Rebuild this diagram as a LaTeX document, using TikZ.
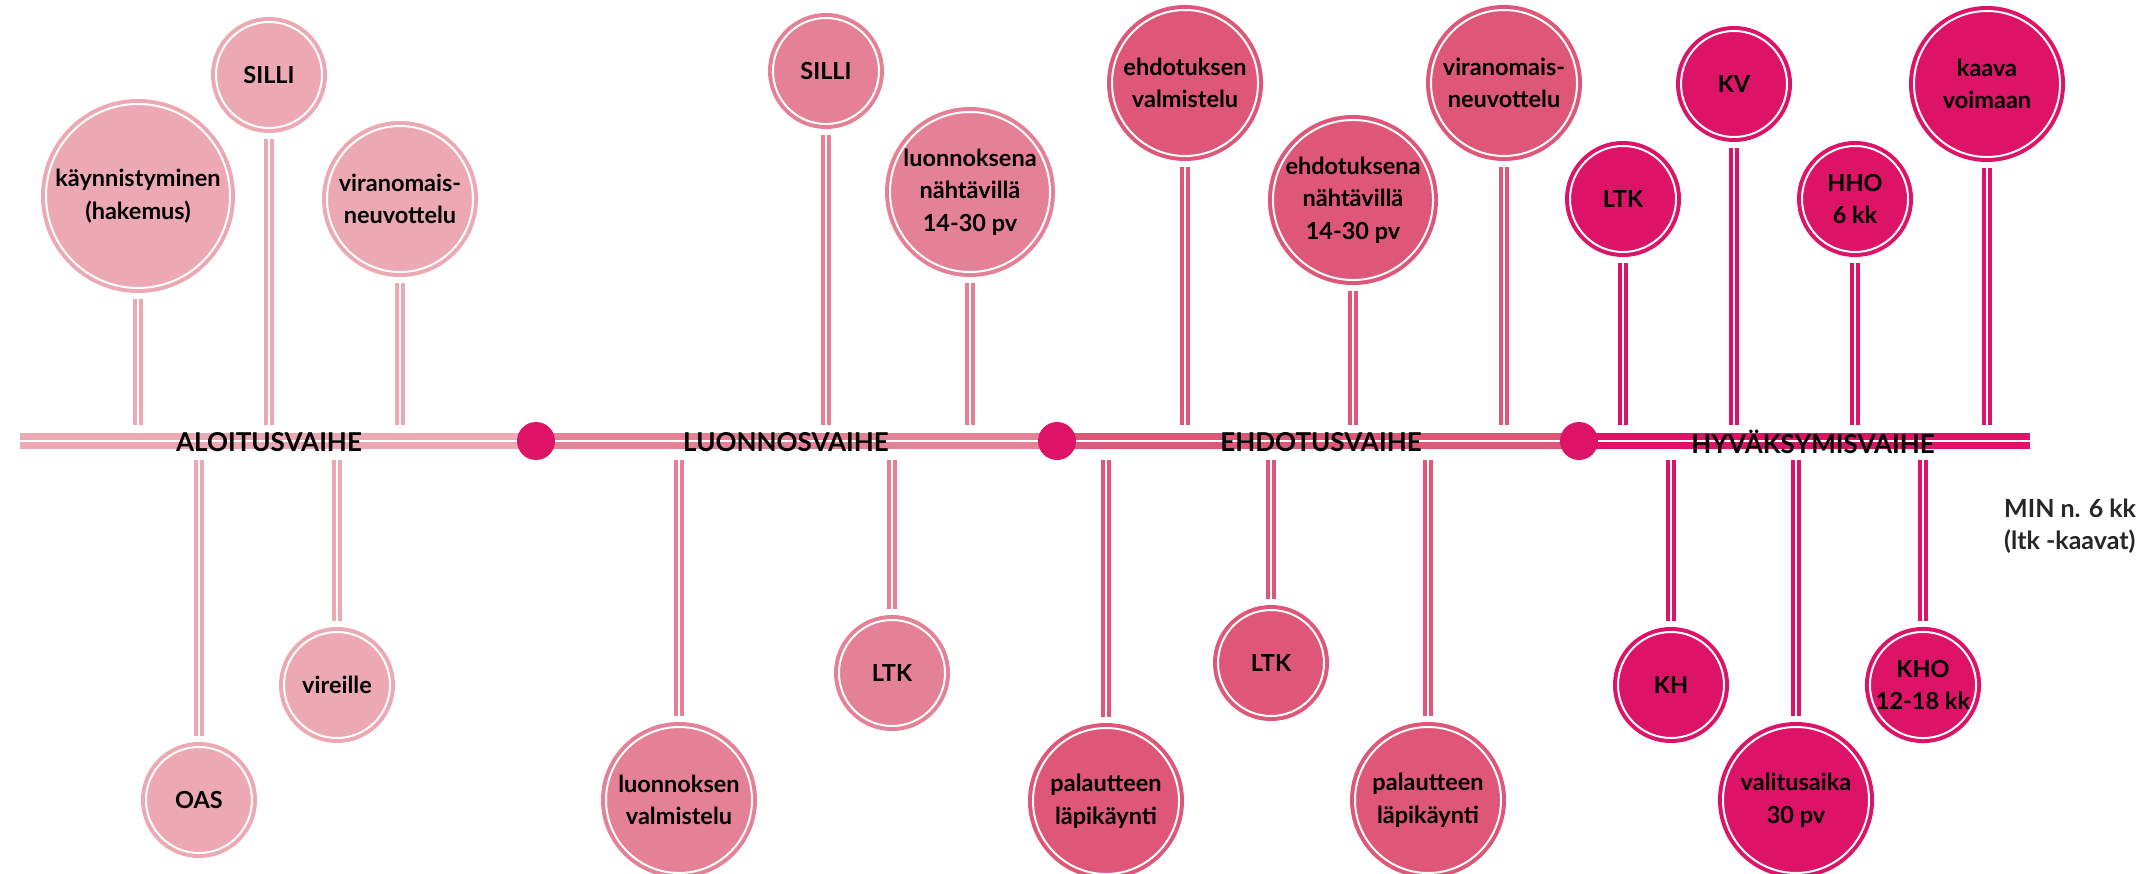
\documentclass[tikz,border=0pt]{standalone}
\usepackage{fontspec}
\setmainfont{Lato}
\usetikzlibrary{calc}
\definecolor{faseA}{HTML}{EDA9B3}
\definecolor{faseB}{HTML}{E58196}
\definecolor{faseC}{HTML}{DE5779}
\definecolor{faseD}{HTML}{DC1367}

\begin{document}
\begin{tikzpicture}[x=1pt,y=-1pt,
    pallo/.style={circle,draw=#1,fill=#1,double=white,double distance=2pt,line width=4pt,
        inner sep=0pt,outer sep=0pt,align=center,text=black,
        font=\fontsize{23.5}{32.5}\selectfont\bfseries},
    pieni/.style={pallo=#1,minimum size=106pt},
    keski/.style={pallo=#1,minimum size=146pt},
    iso/.style={pallo=#1,minimum size=160pt},
    varsi/.style={draw=#1,double=white,double distance=2.5pt,line width=4pt,shorten <=11pt},
    jana/.style={draw=#1,double=white,double distance=2.5pt,line width=6.5pt},
    piste/.style={circle,fill=faseD,minimum size=38pt,inner sep=0pt},
    vaihe/.style={font=\fontsize{26}{30}\selectfont\bfseries,inner sep=0pt}]
        \useasboundingbox (0,0) rectangle (2146,874);

        \coordinate (tlY) at (0,425);
        \coordinate (tlA) at (0,460);
        \coordinate (alku) at (20,441);
        \coordinate (p1) at (536,441);
        \coordinate (p2) at (1057,441);
        \coordinate (p3) at (1579,441);
        \coordinate (loppu) at (2030,441);

        \draw[jana=faseA] (alku) -- (p1);
        \draw[jana=faseB] (p1) -- (p2);
        \draw[jana=faseC] (p2) -- (p3);
        \draw[jana=faseD] (p3) -- (loppu);
        \node[piste] (d1) at (p1) {};
        \node[piste] (d2) at (p2) {};
        \node[piste] (d3) at (p3) {};

        \node[vaihe] (aloitus) at (269,442) {ALOITUSVAIHE};
        \node[vaihe] (luonnos) at (786,442) {LUONNOSVAIHE};
        \node[vaihe] (ehdotus) at (1321,442) {EHDOTUSVAIHE};
        \node[vaihe] (hyvaksy) at (1813,442) {HYVÄKSYMISVAIHE};

        \node[pallo=faseA,minimum size=184pt] (kay) at (138,196) {käynnistyminen\\(hakemus)};
        \node[pieni=faseA] (silliA) at (269,75) {SILLI};
        \node[keski=faseA] (viranA) at (400,199) {viranomais-\\neuvottelu};
        \node[pieni=faseA] (oas) at (199,800) {OAS};
        \node[pieni=faseA] (vireille) at (337,685) {vireille};

        \node[pieni=faseB] (silliB) at (826,71) {SILLI};
        \node[iso=faseB] (luonnNah) at (970,192) {luonnoksena\\nähtävillä\\14-30 pv};
        \node[keski=faseB] (luonnVal) at (679,800) {luonnoksen\\valmistelu};
        \node[pieni=faseB] (ltkB) at (892,673) {LTK};

        \node[keski=faseC] (ehdVal) at (1185,83) {ehdotuksen\\valmistelu};
        \node[iso=faseC] (ehdNah) at (1353,200) {ehdotuksena\\nähtävillä\\14-30 pv};
        \node[keski=faseC] (viranC) at (1504,83) {viranomais-\\neuvottelu};
        \node[keski=faseC] (palA) at (1106,801) {palautteen\\läpikäynti};
        \node[pieni=faseC] (ltkC) at (1271,663) {LTK};
        \node[keski=faseC] (palB) at (1428,800) {palautteen\\läpikäynti};

        \node[pieni=faseD] (ltkD) at (1623,199) {LTK};
        \node[pieni=faseD] (kv) at (1734,84) {KV};
        \node[pieni=faseD] (hho) at (1855,199) {HHO\\6 kk};
        \node[keski=faseD] (voimaan) at (1987,84) {kaava\\voimaan};
        \node[pieni=faseD] (kh) at (1671,685) {KH};
        \node[keski=faseD] (valitus) at (1796,800) {valitusaika\\30 pv};
        \node[pieni=faseD] (kho) at (1923,685) {KHO\\12-18 kk};

        \draw[varsi=faseA] (kay) -- (kay |- tlY);
        \draw[varsi=faseA] (silliA) -- (silliA |- tlY);
        \draw[varsi=faseA] (viranA) -- (viranA |- tlY);
        \draw[varsi=faseA] (oas) -- (oas |- tlA);
        \draw[varsi=faseA] (vireille) -- (vireille |- tlA);

        \draw[varsi=faseB] (silliB) -- (silliB |- tlY);
        \draw[varsi=faseB] (luonnNah) -- (luonnNah |- tlY);
        \draw[varsi=faseB] (luonnVal) -- (luonnVal |- tlA);
        \draw[varsi=faseB] (ltkB) -- (ltkB |- tlA);

        \draw[varsi=faseC] (ehdVal) -- (ehdVal |- tlY);
        \draw[varsi=faseC] (ehdNah) -- (ehdNah |- tlY);
        \draw[varsi=faseC] (viranC) -- (viranC |- tlY);
        \draw[varsi=faseC] (palA) -- (palA |- tlA);
        \draw[varsi=faseC] (ltkC) -- (ltkC |- tlA);
        \draw[varsi=faseC] (palB) -- (palB |- tlA);

        \draw[varsi=faseD] (ltkD) -- (ltkD |- tlY);
        \draw[varsi=faseD] (kv) -- (kv |- tlY);
        \draw[varsi=faseD] (hho) -- (hho |- tlY);
        \draw[varsi=faseD] (voimaan) -- (voimaan |- tlY);
        \draw[varsi=faseD] (kh) -- (kh |- tlA);
        \draw[varsi=faseD] (valitus) -- (valitus |- tlA);
        \draw[varsi=faseD] (kho) -- (kho |- tlA);

        \node[anchor=west,align=left,text=black!85,inner sep=0pt,
            font=\fontsize{25}{32}\selectfont\bfseries] (kesto) at (2004,526) {MIN n. 6 kk\\(ltk -kaavat)};
    \end{tikzpicture}
\end{document}
